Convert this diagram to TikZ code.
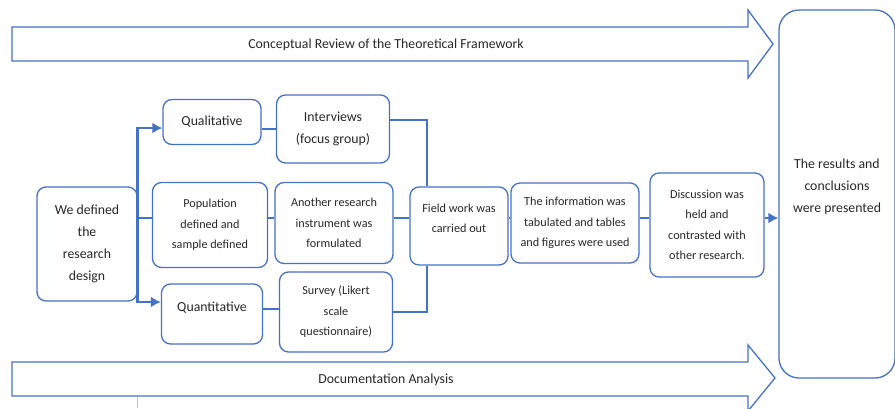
\documentclass[tikz,border=0pt]{standalone}
\usepackage{fontspec}
\setmainfont{Carlito}
\usetikzlibrary{positioning,calc,arrows.meta}
\definecolor{boxblue}{RGB}{68,114,196}
\definecolor{txtgray}{RGB}{40,40,40}

\begin{document}
\begin{tikzpicture}[x=1pt,y=-1pt,
				block/.style={draw=boxblue,line width=1.3pt,rounded corners=9pt,align=center,
					inner sep=1pt,text=txtgray,font=\fontsize{13.8}{22}\selectfont},
				smallblock/.style={block,font=\fontsize{12.2}{20.5}\selectfont},
				link/.style={draw=boxblue,line width=2.6pt},
				tip/.style={-{Latex[length=10pt,width=11pt]}},
				bigarrow/.style={draw=boxblue,line width=1.3pt,fill=white}]
				\clip (0,0) rectangle (895,408);
				\fill[white] (0,0) rectangle (895,408);
				% wide arrows
				\draw[bigarrow] (12,27) -- (748,27) -- (748,10) -- (773,44) -- (748,78) -- (748,61) -- (12,61) -- cycle;
				\draw[bigarrow] (12,362) -- (748,362) -- (748,345) -- (775,378) -- (748,411) -- (748,396) -- (12,396) -- cycle;
				\node[text=txtgray,font=\fontsize{13.8}{16}\selectfont] (concept) at (386,45) {Conceptual Review of the Theoretical Framework};
				\node[text=txtgray,font=\fontsize{13.8}{16}\selectfont] (docu)    at (386,380) {Documentation Analysis};
				\draw[gray!50,line width=1pt] (137,397) -- (137,408);
				
				\node[block,minimum width=100pt,minimum height=114pt] (design)  at (87,244)  {We defined\\the\\research\\design};
				\node[block,minimum width=98pt,minimum height=45pt]   (qual)    at (212,122) {Qualitative};
				\node[smallblock,minimum width=115pt,minimum height=85pt]  (pop)     at (210,225) {Population\\defined and\\sample defined};
				\node[block,minimum width=101pt,minimum height=60pt]  (quant)   at (212,314) {Quantitative\\[-8pt]};
				\node[block,minimum width=113pt,minimum height=68pt]  (interv)  at (333,129) {Interviews\\(focus group)};
				\node[smallblock,minimum width=118pt,minimum height=81pt]  (another) at (334,223) {Another research\\instrument was\\formulated};
				\node[smallblock,minimum width=113pt,minimum height=80pt]  (survey)  at (336,312) {Survey (Likert\\scale\\questionnaire)};
				\node[smallblock,minimum width=98pt,minimum height=78pt]   (field)   at (459,226) {Field work was\\carried out\\[-5pt]};
				\node[smallblock,minimum width=128pt,minimum height=80pt]  (info)    at (575,223) {The information was\\tabulated and tables\\and figures were used};
				\node[smallblock,minimum width=114pt,minimum height=104pt] (disc)    at (707,225) {Discussion was\\held and\\contrasted with\\other research.};
				\node[block,rounded corners=20pt,minimum width=116pt,minimum height=368pt] (results) at (837,194)
					{The results and\\conclusions\\were presented\\[-6pt]};
				\coordinate (axis) at (0,218);
				
				\draw[link,tip] (design.east) |- ([yshift=-6pt]qual.west);
				\draw[link,tip] (design.east) |- ([yshift=12pt]quant.west);
				\draw[link] (design.east |- axis) -- (pop.west |- axis);
				\draw[link] (pop.east |- axis) -- (another.west |- axis);
				\draw[link] (another.east |- axis) -- (field.west |- axis);
				\draw[link] (field.east |- axis) -- (info.west |- axis);
				\draw[link] (info.east |- axis) -- (disc.west |- axis);
				\draw[link,tip] (disc.east |- axis) -- (results.west |- axis);
				\draw[link] (qual.east |- interv.west) -- (interv.west);
				\draw[link] ([yshift=5pt]quant.east) -- ([yshift=5pt]quant.east -| survey.west);
				\draw[link] ([yshift=9pt]interv.east) -| ([xshift=-32pt]field.north);
				\draw[link] (survey.east) -| ([xshift=-32pt]field.south);
			\end{tikzpicture}
\end{document}
